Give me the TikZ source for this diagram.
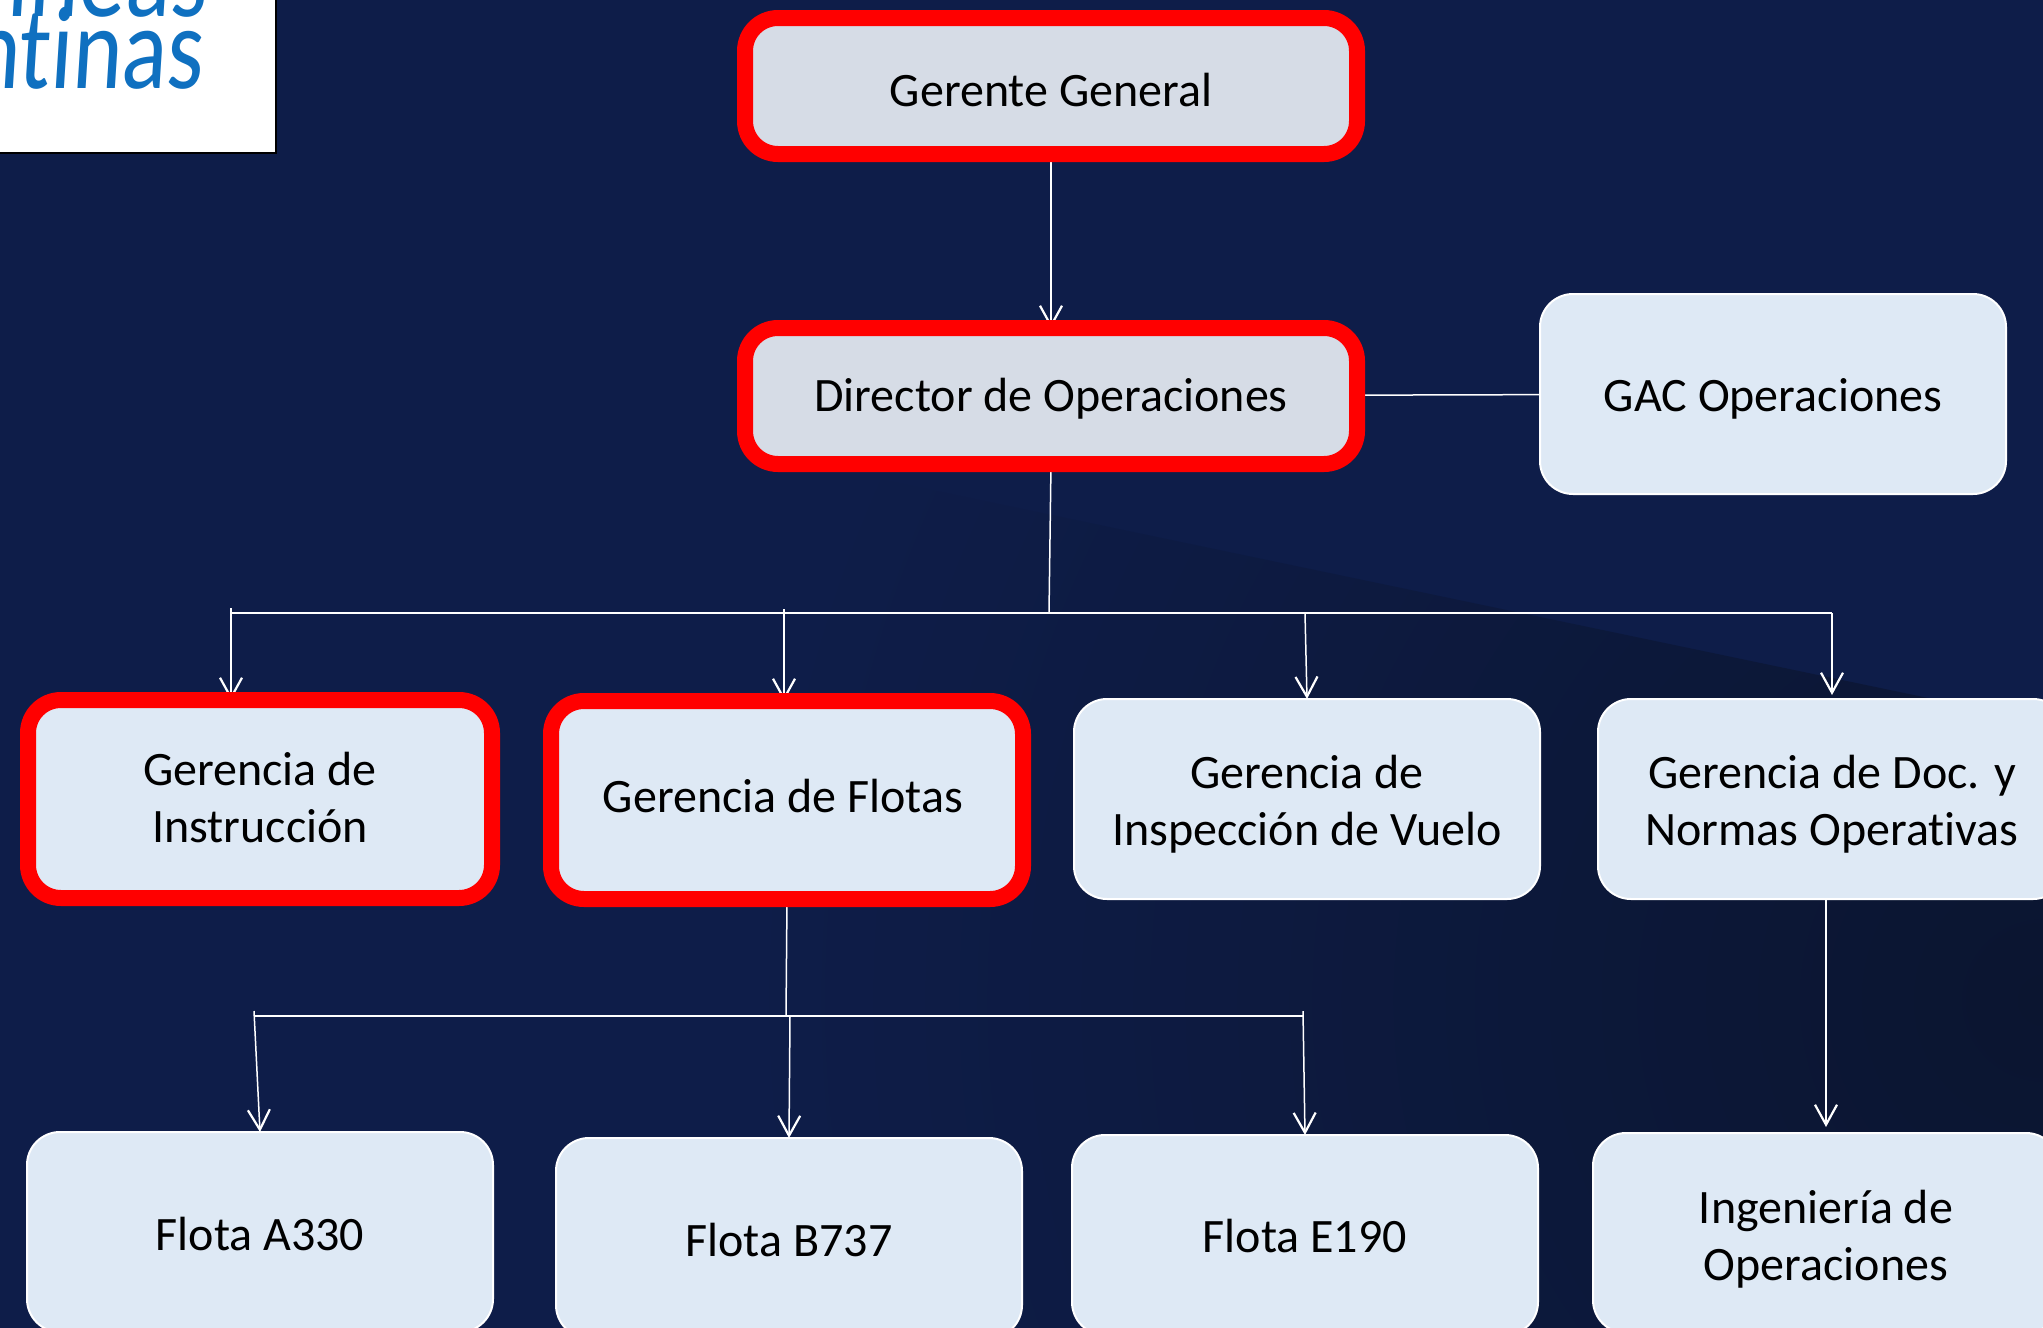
\documentclass[tikz,border=0pt]{standalone}
\usepackage{fontspec}
\setmainfont{Carlito}[Ligatures=NoCommon]
\usetikzlibrary{arrows.meta,positioning,backgrounds}
\definecolor{navybg}{HTML}{0E1D49}
\definecolor{navydark}{HTML}{0B1530}
\definecolor{boxblue}{HTML}{DEE9F5}
\definecolor{boxgrey}{HTML}{D6DCE6}
\definecolor{logoblue}{HTML}{0F70C0}
\newcommand{\boxdn}[1]{\rule{0pt}{#1pt}}
\newcommand{\boxup}[1]{\rule[-#1pt]{0pt}{0pt}}
\tikzset{
  box/.style={draw=white,line width=2pt,fill=boxblue,rounded corners=33pt,outer sep=0pt,
    minimum width=466pt,minimum height=200pt,align=center,text=black,
    font=\fontsize{48}{57}\selectfont},
  redbox/.style={box,draw=red,line width=16pt,minimum width=#1},
  link/.style={draw=white,line width=1.5pt},
  arrow/.style={link,-{Straight Barb[length=20pt,width=22pt,line width=2.2pt]}}
}
\begin{document}
\begin{tikzpicture}[x=1pt,y=-1pt]
\useasboundingbox (0,0) rectangle (2043,1328);

% boxes
\node (gerente) [redbox=612pt,minimum height=136pt,fill=boxgrey] at (1051,86) {\boxdn{41}Gerente General};
\node (director) [redbox=612pt,minimum height=136pt,fill=boxgrey,below=174pt of gerente] {\boxdn{39}Director de Operaciones};
\node (gac) [box,right=183pt of director,yshift=2pt,text depth=2pt] {\boxdn{36}GAC Operaciones};

\node (instruccion) [redbox=464pt,minimum height=198pt] at (260,799) {Gerencia de\\Instrucción\boxup{4}};
\node (flotas) [redbox=472pt,minimum height=198pt,right=59pt of instruccion,yshift=-1pt] {\hspace*{-8pt}Gerencia de Flotas\boxup{8}};
\node (inspeccion) [box,right=51pt of flotas,yshift=1pt] {\boxdn{43}Gerencia de\\Inspección de Vuelo};
\node (normas) [box,minimum width=468pt,right=58pt of inspeccion] {\boxdn{43}Gerencia de Doc. y\\Normas Operativas};

\node (a330) [box,below=234pt of instruccion] {\boxdn{37}Flota A330};
\node (b737) [box,below=239pt of flotas,xshift=2pt] {\boxdn{37}Flota B737};
\node (e190) [box,below=236pt of inspeccion,xshift=-2pt] {\boxdn{36}Flota E190};
\node (ingenieria) [box,below=234pt of normas,xshift=-6pt] {\boxdn{45}Ingeniería de\\Operaciones};

% logo
\node (logo) [fill=white,draw=black,line width=2pt,outer sep=0pt,minimum width=296pt,minimum height=172pt] at (128,67) {};
\begin{scope}
\clip (logo.north west) rectangle (logo.south east);
\node (logotop) [text=logoblue,font=\fontsize{118}{118}\selectfont,anchor=base east,xscale=.8,inner sep=0pt] at (207,16) {\addfontfeature{FakeSlant=.08}líneas};
\node (logobottom) [text=logoblue,font=\fontsize{118}{118}\selectfont,anchor=base east,xscale=.8,inner sep=0pt] at (203,88) {\addfontfeature{FakeSlant=.08}ntinas};
\end{scope}

% bus ends
\coordinate (busleft) at (231,613);
\coordinate (busmid) at (1049,613);
\coordinate (busright) at (1832,613);
\coordinate (lowleft) at (254,1016);
\coordinate (lowmid) at (786,1016);
\coordinate (lowright) at (1303,1016);

\begin{scope}[on background layer]
\fill[navybg] (0,0) rectangle (2043,1328);
\begin{scope}
\clip (520,404) -- (2043,722) -- (2043,1328) -- (520,1328) -- cycle;
\shade[inner color=navydark,outer color=navybg] (2043,1000) circle (1300pt);
\end{scope}

\draw[arrow] (gerente) -- (director);
\draw[link] (director) -- (gac);
\draw[link] (director.south) -- (busmid);
\draw[link] (busleft) -- (busright);
\draw[arrow] ([yshift=5pt]busleft) -- (231,700);
\draw[arrow] ([xshift=-3pt,yshift=4pt]flotas.north |- busleft) -- ([xshift=-3pt]flotas.north);
\draw[arrow] ([xshift=-2pt]inspeccion.north |- busleft) -- (inspeccion.north);
\draw[arrow,shorten >=4pt] (busright) -- (normas.north);
\draw[link] (flotas.south) -- (lowmid);
\draw[link] (lowleft) -- (lowright);
\draw[arrow] ([yshift=5pt]lowleft) -- (a330.north);
\draw[arrow] ([xshift=4pt]lowmid) -- (b737.north);
\draw[arrow] ([yshift=5pt]lowright) -- (e190.north);
\draw[arrow,shorten >=6pt] (normas.south -| ingenieria) -- (ingenieria.north);
\end{scope}
\end{tikzpicture}
\end{document}
